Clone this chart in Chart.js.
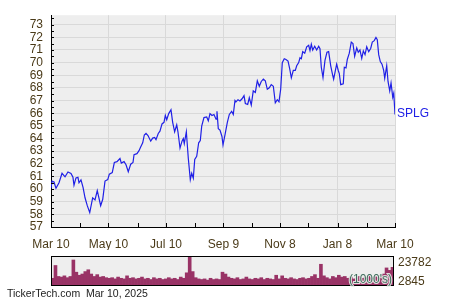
<!DOCTYPE html>
<html>
<head>
<meta charset="utf-8">
<script src="https://cdn.jsdelivr.net/npm/chart.js@4.4.1/dist/chart.umd.min.js"></script>
<style>
  body { margin: 0; background: #fff; }
  #wrap { position: relative; width: 450px; height: 300px; }
  canvas { position: absolute; left: 0; }
</style>
</head>
<body>
<div id="wrap">
  <canvas id="priceChart" width="450" height="250" style="top:0"></canvas>
  <canvas id="volChart" width="450" height="50" style="top:250px"></canvas>
</div>
<script>
// SPLG daily close (x = days since Mar 10 2024)
var priceDays = [0,1.1,3.2,5.3,8.5,11.7,14.9,18,21.2,23.3,24.4,26.5,28.6,29.7,31.8,34,36.1,38.5,41.1,44.2,
  46.7,49.1,52.7,54.9,57.3,60.2,61.9,65,67.2,70,73.2,74.6,77.5,79.6,82,84.6,87,88.1,91.2,93.4,
  95,97.3,99,100.8,102.9,105.8,107.9,110,111.4,113.8,115.6,117.8,119.9,121.3,122.8,124.9,127.3,129.1,131.2,133.4,
  134.7,136.9,139,140.4,141.4,143.6,145.7,147.8,149.3,151,152.5,154.6,156.7,158.4,159.9,162.3,165.2,166.9,168.7,170.8,
  172.9,175.1,176.1,177.5,179.3,181.4,182.5,184.6,187.1,189.2,191.7,193.4,195.2,196.3,198.4,200.5,202.7,204.8,206.2,208.7,
  210.4,212.5,214.6,216.8,218.9,221,223.1,225.3,227.4,229.5,231.6,233.7,235.9,238,240.1,241.9,243.7,245.4,247.5,249.3,
  251.5,253.3,255,257.1,259.2,260.7,262.8,264.2,265.6,267.1,269.2,271.3,273.4,274.8,276.2,277.7,279.8,281.9,284,285.4,
  286.8,288.6,290.7,292.8,294.6,296.8,298.9,299.9,301.6,303.1,304.8,305.9,307.4,310.1,311.2,313,314.4,316.5,318.6,320.4,
  322.2,324.4,326,327.8,329.7,331.4,333.2,335,337.1,339.2,340.9,343,344.8,346.2,347.7,349.4,351.2,353,354.1,356.2,
  357.6,359.4,360.8,362.6,363.7,365];
var prices = [60.06,60.63,60.56,60.06,60.5,61.25,60.97,61.35,61.23,60.93,60.3,60.88,60.93,60.5,60.73,60.13,59.31,58.69,58.14,59.31,
  59.14,59.88,58.69,59.19,60.63,60.75,61.18,61.3,62.1,62.17,62.42,62.05,62.17,61.92,61.37,61.97,62.1,62.72,62.8,63.04,
  63.3,63.66,64.28,64.4,64.23,63.79,64.03,64.08,63.91,64.4,64.58,65.15,65.28,65.82,65.48,65.97,66.27,65.28,64.53,65.08,
  64.53,63.24,63.79,63.99,63.59,64.53,62.42,60.75,61.25,60.86,62.35,62.59,63.66,63.84,64.98,65.65,65.7,65.4,65.97,65.82,
  65.9,65.52,66.15,64.78,64.66,64.16,63.49,64.28,65.28,65.9,66.15,65.9,67.0,66.9,67.07,66.97,67.14,67.39,66.77,66.69,
  67.22,66.64,67.76,67.64,68.56,68.13,68.51,68.69,68.56,67.89,68.01,68.26,68.13,66.82,67.07,66.9,67.89,70.0,70.31,70.25,
  70.12,69.5,68.8,69.38,69.38,69.75,70.0,70.38,70.31,70.87,70.75,71.25,71.37,70.95,71.45,71.0,71.3,71.0,71.3,71.1,
  69.63,68.83,70.17,70.82,70.87,69.75,69.0,68.69,69.33,69.88,69.38,69.13,68.26,68.33,69.63,69.58,70.25,70.75,71.62,71.5,
  70.5,71.17,70.82,71.0,70.33,70.93,70.63,71.25,70.87,71.12,71.62,71.74,71.99,71.82,70.63,70.08,69.88,69.38,68.76,69.75,
  68.51,67.76,68.39,67.27,67.59,65.9];

// volume (1000's), one bar per ~3 days
var volumes = [5500,16000,7000,6500,7500,6000,7000,20500,10500,8000,9000,11000,12500,9000,7000,8500,6500,7000,6000,5500,
  6000,5000,6500,5500,5000,7500,5500,6000,5000,5500,6500,5000,5500,4500,6000,5000,5500,4500,5000,6000,
  5000,5500,4500,6500,5500,10000,23782,11000,6000,5000,4500,5000,4000,5500,4500,5000,4500,10500,9000,6500,
  5500,5000,6000,4500,5000,6500,5000,4500,5500,5000,6000,4500,5500,5000,4500,8000,5000,7500,5500,5000,
  6000,5000,4500,5500,6000,5000,5500,7000,8500,5500,17000,7500,6000,5000,7000,6000,8000,6500,7000,5500,
  6500,5000,6000,7000,5500,6500,7500,6000,7000,6500,8000,9000,14000,12000,14500];

var tickDays = [0, 61, 122, 183, 243, 304, 365];
var tickLabels = ["Mar 10", "May 10", "Jul 10", "Sep 9", "Nov 8", "Jan 8", "Mar 10"];
var minorDays = [31, 92, 153, 213, 273, 335];
var volMarks = [23782, 2845];
var symbol = "SPLG";

var FONT = "'Liberation Sans', Arial, sans-serif";
var TXT = "#4a3a18";
var LINE = "#2020e6";
var GRID = "#d9d9d9";

Chart.defaults.font.family = FONT;
Chart.defaults.font.size = 12;
Chart.defaults.color = TXT;

var bgPlugin = {
  id: "bg",
  beforeDraw: function(chart) {
    var a = chart.chartArea, c = chart.ctx;
    c.save();
    c.fillStyle = "#eeeeee";
    c.fillRect(a.left, a.top, a.right - a.left, a.bottom - a.top);
    c.restore();
  }
};

var pricePlugin = {
  id: "priceExtras",
  afterDraw: function(chart) {
    var c = chart.ctx, a = chart.chartArea;
    var xs = chart.scales.x, ys = chart.scales.y;
    c.save();
    c.strokeStyle = "#000";
    c.lineWidth = 1;
    c.beginPath();
    // small inside ticks on the bottom axis
    tickDays.concat(minorDays).forEach(function(d) {
      var px = Math.round(xs.getPixelForValue(d)) + 0.5;
      c.moveTo(px, a.bottom);
      c.lineTo(px, a.bottom - 4);
    });
    // half unit ticks on the left axis
    for (var v = 57; v <= 73.5; v += 0.5) {
      var py = Math.round(ys.getPixelForValue(v)) + 0.5;
      c.moveTo(a.left, py);
      c.lineTo(a.left + 3, py);
    }
    c.stroke();
    // symbol at the end of the line
    c.fillStyle = LINE;
    c.font = "12px " + FONT;
    c.textBaseline = "middle";
    c.fillText(symbol, a.right + 2, ys.getPixelForValue(prices[prices.length - 1]) - 1);
    c.restore();
  }
};

new Chart("priceChart", {
  type: "line",
  data: {
    datasets: [{
      data: priceDays.map(function(d, i) { return { x: d, y: prices[i] }; }),
      borderColor: LINE,
      borderWidth: 1.2,
      pointRadius: 0,
      tension: 0,
      fill: false
    }]
  },
  options: {
    responsive: false,
    animation: false,
    devicePixelRatio: 1,
    layout: { padding: { left: 0, right: 55, top: 2, bottom: 0 } },
    plugins: { legend: { display: false }, tooltip: { enabled: false } },
    scales: {
      x: {
        type: "linear",
        min: 0,
        max: 365,
        afterBuildTicks: function(s) { s.ticks = tickDays.map(function(d) { return { value: d }; }); },
        afterFit: function(s) { s.height = 23; },
        ticks: {
          autoSkip: false,
          maxRotation: 0,
          padding: 10,
          callback: function(v) { return tickLabels[tickDays.indexOf(v)]; }
        },
        grid: {
          drawTicks: false,
          color: function(ctx) { return ctx.tick && ctx.tick.value === 0 ? "rgba(0,0,0,0)" : GRID; }
        },
        border: { color: "#000", width: 1 }
      },
      y: {
        min: 57,
        max: 73.75,
        afterBuildTicks: function(s) {
          var t = [];
          for (var v = 57; v <= 73; v++) t.push({ value: v });
          s.ticks = t;
        },
        afterFit: function(s) { s.width = 51; },
        ticks: { autoSkip: false, padding: 8 },
        grid: {
          drawTicks: false,
          color: function(ctx) { return ctx.tick && ctx.tick.value === 57 ? "rgba(0,0,0,0)" : GRID; }
        },
        border: { color: "#000", width: 1 }
      }
    }
  },
  plugins: [bgPlugin, pricePlugin]
});

var volPlugin = {
  id: "volExtras",
  afterDraw: function(chart) {
    var c = chart.ctx, a = chart.chartArea, ys = chart.scales.y;
    c.save();
    c.strokeStyle = "#000";
    c.lineWidth = 1;
    c.strokeRect(a.left + 0.5, a.top + 0.5, a.right - a.left - 1, a.bottom - a.top);
    c.font = "12px " + FONT;
    c.textBaseline = "middle";
    c.fillStyle = TXT;
    volMarks.forEach(function(v) {
      var py = Math.max(ys.getPixelForValue(v), a.top + 7);
      c.fillText(String(v), a.right + 4, py);
    });
    // units note inside the panel
    c.textAlign = "right";
    c.lineWidth = 2;
    c.strokeStyle = "rgba(235,240,235,0.9)";
    c.strokeText("(1000's)", a.right - 2, a.bottom - 5);
    c.fillStyle = "#3e6b5c";
    c.fillText("(1000's)", a.right - 2, a.bottom - 5);
    // footer
    c.textAlign = "left";
    c.fillStyle = "#222";
    c.font = "10.5px " + FONT;
    c.fillText("TickerTech.com  Mar 10, 2025", 7, 44);
    c.restore();
  }
};

new Chart("volChart", {
  type: "bar",
  data: {
    labels: volumes.map(function(v, i) { return i; }),
    datasets: [{
      data: volumes,
      backgroundColor: "#993366",
      barPercentage: 1,
      categoryPercentage: 1,
      borderWidth: 0
    }]
  },
  options: {
    responsive: false,
    animation: false,
    devicePixelRatio: 1,
    layout: { padding: { left: 51, right: 56, top: 6, bottom: 15 } },
    plugins: { legend: { display: false }, tooltip: { enabled: false } },
    scales: {
      x: { display: false },
      y: { display: false, min: 0, max: 23782 }
    }
  },
  plugins: [bgPlugin, volPlugin]
});
</script>
</body>
</html>
